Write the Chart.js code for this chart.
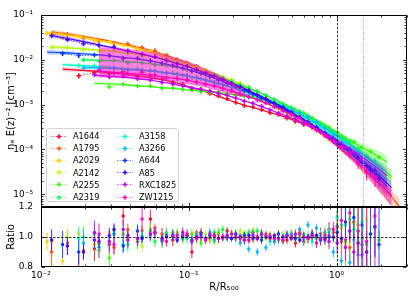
<!DOCTYPE html>
<html>
<head>
<meta charset="utf-8">
<script src="https://cdn.jsdelivr.net/npm/chart.js@4.4.1/dist/chart.umd.min.js"></script>
<style>
  html, body { margin: 0; padding: 0; background: #fff; }
  #wrap { position: relative; width: 415px; height: 297px; overflow: hidden; }
  #wrap canvas { position: absolute; left: 0; top: 0; }
  #legend {
    position: absolute; left: 46px; top: 128px; width: 133px; height: 74px;
    box-sizing: border-box; border: 1px solid #d4d4d4; border-radius: 3px;
    background: rgba(255, 255, 255, 0.8);
    font-family: 'DejaVu Sans', sans-serif; font-size: 8.2px; color: #000;
  }
  #legend .item { position: absolute; height: 12px; line-height: 12px; white-space: nowrap; }
  #legend svg { position: absolute; top: 1.5px; }
</style>
</head>
<body>
<div id="wrap">
  <canvas id="main" width="415" height="297"></canvas>
  <canvas id="ratio" width="415" height="297"></canvas>
  <div id="legend"></div>
</div>
<script>
// ─── DATA ───────────────────────────────────────────────────────
const clusters = ['A1644', 'A1795', 'A2029', 'A2142', 'A2255', 'A2319',
                  'A3158', 'A3266', 'A644', 'A85', 'RXC1825', 'ZW1215'];

// radial bins (R/R500); odd-indexed clusters sit on the second grid
const gridA = [0.011, 0.014, 0.018, 0.023, 0.029, 0.036, 0.045, 0.055, 0.066, 0.078, 0.091, 0.105,
               0.121, 0.139, 0.159, 0.182, 0.208, 0.238, 0.272, 0.311, 0.355, 0.405, 0.462, 0.527,
               0.6, 0.684, 0.78, 0.89, 1.01, 1.15, 1.31, 1.49, 1.7, 1.94, 2.2, 2.5];
const gridB = [0.0118, 0.0151, 0.0194, 0.0247, 0.0312, 0.0387, 0.0483, 0.059, 0.0707, 0.0835, 0.0975, 0.113,
               0.13, 0.149, 0.17, 0.195, 0.223, 0.255, 0.291, 0.333, 0.38, 0.434, 0.495, 0.564,
               0.642, 0.732, 0.835, 0.952, 1.08, 1.23, 1.4, 1.6, 1.82, 2.08, 2.36, 2.68];

// best-fit model n_e E(z)^-2 [cm^-3]
const modelA1644 = [null, 6.2e-3, 5.9e-3, 5.6e-3, 5.2e-3, 4.8e-3, 4.4e-3, 4.0e-3, 3.6e-3, 3.2e-3, 2.8e-3, 2.4e-3,
  2.1e-3, 1.8e-3, 1.53e-3, 1.3e-3, 1.12e-3, 9.7e-4, 8.6e-4, 7.6e-4, 6.7e-4, 5.9e-4, 5.1e-4, 4.4e-4,
  3.7e-4, 3.1e-4, 2.5e-4, 2.0e-4, 1.53e-4, 1.15e-4, 8.4e-5, 6.0e-5, 4.1e-5, 2.7e-5, 1.7e-5, null];
const modelA1795 = [4.2e-2, 3.8e-2, 3.35e-2, 2.9e-2, 2.5e-2, 2.15e-2, 1.8e-2, 1.51e-2, 1.25e-2, 1.03e-2, 8.5e-3, 7.0e-3,
  5.8e-3, 4.7e-3, 3.9e-3, 3.2e-3, 2.6e-3, 2.1e-3, 1.68e-3, 1.33e-3, 1.05e-3, 8.3e-4, 6.5e-4, 5.0e-4,
  3.8e-4, 2.9e-4, 2.1e-4, 1.55e-4, 1.12e-4, 7.9e-5, 5.4e-5, 3.6e-5, 2.3e-5, 1.45e-5, 8.8e-6, 5.2e-6];
const modelA2029 = [4.0e-2, 3.7e-2, 3.3e-2, 2.85e-2, 2.45e-2, 2.1e-2, 1.78e-2, 1.48e-2, 1.22e-2, 1.01e-2, 8.3e-3, 6.8e-3,
  5.6e-3, 4.6e-3, 3.8e-3, 3.1e-3, 2.5e-3, 2.0e-3, 1.6e-3, 1.28e-3, 1.02e-3, 8.1e-4, 6.4e-4, 5.0e-4,
  3.9e-4, 3.0e-4, 2.3e-4, 1.72e-4, 1.27e-4, 9.2e-5, 6.4e-5, 4.3e-5, 2.8e-5, 1.8e-5, 1.1e-5, null];
const modelA2142 = [1.95e-2, 1.86e-2, 1.76e-2, 1.65e-2, 1.54e-2, 1.42e-2, 1.29e-2, 1.16e-2, 1.03e-2, 9.1e-3, 8.0e-3, 6.9e-3,
  5.9e-3, 5.0e-3, 4.2e-3, 3.5e-3, 2.9e-3, 2.4e-3, 1.95e-3, 1.58e-3, 1.27e-3, 1.01e-3, 8.0e-4, 6.3e-4,
  4.9e-4, 3.8e-4, 2.9e-4, 2.2e-4, 1.65e-4, 1.22e-4, 9.0e-5, 6.5e-5, 4.6e-5, 3.2e-5, 2.2e-5, null];
const modelA2255 = [null, null, null, 3.0e-3, 2.9e-3, 2.8e-3, 2.65e-3, 2.5e-3, 2.4e-3, 2.3e-3, 2.2e-3, 2.1e-3,
  2.02e-3, 1.94e-3, 1.85e-3, 1.75e-3, 1.65e-3, 1.55e-3, 1.45e-3, 1.32e-3, 1.18e-3, 1.04e-3, 9.0e-4, 7.7e-4,
  6.4e-4, 5.1e-4, 4.0e-4, 3.1e-4, 2.35e-4, 1.82e-4, 1.42e-4, 1.12e-4, 8.8e-5, 6.8e-5, 5.2e-5, null];
const modelA2319 = [null, null, 1.0e-2, 9.8e-3, 9.5e-3, 9.1e-3, 8.6e-3, 8.0e-3, 7.4e-3, 6.8e-3, 6.1e-3, 5.5e-3,
  4.9e-3, 4.3e-3, 3.7e-3, 3.2e-3, 2.7e-3, 2.3e-3, 1.92e-3, 1.6e-3, 1.32e-3, 1.07e-3, 8.6e-4, 6.9e-4,
  5.5e-4, 4.3e-4, 3.3e-4, 2.5e-4, 1.85e-4, 1.37e-4, 1.0e-4, 7.2e-5, 5.1e-5, 3.6e-5, 2.5e-5, null];
const modelA3158 = [null, 7.8e-3, 7.5e-3, 7.2e-3, 6.9e-3, 6.5e-3, 6.1e-3, 5.7e-3, 5.3e-3, 4.9e-3, 4.5e-3, 4.1e-3,
  3.7e-3, 3.3e-3, 2.9e-3, 2.6e-3, 2.3e-3, 2.0e-3, 1.72e-3, 1.46e-3, 1.23e-3, 1.02e-3, 8.3e-4, 6.7e-4,
  5.3e-4, 4.1e-4, 3.1e-4, 2.3e-4, 1.7e-4, 1.24e-4, 9.0e-5, 6.4e-5, 4.5e-5, 3.1e-5, 2.1e-5, null];
const modelA3266 = [null, null, 6.8e-3, 6.6e-3, 6.4e-3, 6.1e-3, 5.8e-3, 5.5e-3, 5.1e-3, 4.8e-3, 4.4e-3, 4.0e-3,
  3.6e-3, 3.2e-3, 2.8e-3, 2.45e-3, 2.13e-3, 1.83e-3, 1.56e-3, 1.32e-3, 1.1e-3, 9.1e-4, 7.5e-4, 6.1e-4,
  4.9e-4, 3.9e-4, 3.0e-4, 2.3e-4, 1.72e-4, 1.27e-4, 9.3e-5, 6.7e-5, 4.8e-5, 3.4e-5, null, null];
const modelA644 = [1.48e-2, 1.45e-2, 1.38e-2, 1.31e-2, 1.23e-2, 1.14e-2, 1.04e-2, 9.4e-3, 8.4e-3, 7.4e-3, 6.5e-3, 5.7e-3,
  4.9e-3, 4.2e-3, 3.6e-3, 3.0e-3, 2.5e-3, 2.1e-3, 1.72e-3, 1.4e-3, 1.13e-3, 9.0e-4, 7.1e-4, 5.6e-4,
  4.3e-4, 3.3e-4, 2.5e-4, 1.85e-4, 1.35e-4, 9.8e-5, 7.0e-5, 4.9e-5, 3.4e-5, 2.3e-5, 1.5e-5, null];
const modelA85 = [3.5e-2, 3.0e-2, 2.55e-2, 2.15e-2, 1.83e-2, 1.57e-2, 1.34e-2, 1.14e-2, 9.7e-3, 8.3e-3, 7.1e-3, 6.0e-3,
  5.1e-3, 4.3e-3, 3.6e-3, 3.0e-3, 2.5e-3, 2.05e-3, 1.67e-3, 1.35e-3, 1.08e-3, 8.6e-4, 6.8e-4, 5.3e-4,
  4.1e-4, 3.1e-4, 2.35e-4, 1.75e-4, 1.3e-4, 9.4e-5, 6.7e-5, 4.6e-5, 3.1e-5, 2.1e-5, 1.4e-5, null];
const modelRXC1825 = [null, null, null, 4.5e-3, 4.3e-3, 4.1e-3, 3.8e-3, 3.5e-3, 3.2e-3, 2.9e-3, 2.6e-3, 2.4e-3,
  2.2e-3, 2.0e-3, 1.8e-3, 1.6e-3, 1.4e-3, 1.22e-3, 1.06e-3, 9.0e-4, 7.7e-4, 6.5e-4, 5.5e-4, 4.6e-4,
  3.8e-4, 3.1e-4, 2.5e-4, 2.0e-4, 1.55e-4, 1.2e-4, 9.1e-5, 6.8e-5, 5.0e-5, 3.6e-5, 2.6e-5, null];
const modelZW1215 = [null, null, null, 5.6e-3, 5.3e-3, 5.0e-3, 4.7e-3, 4.4e-3, 4.1e-3, 3.8e-3, 3.5e-3, 3.2e-3,
  2.9e-3, 2.6e-3, 2.3e-3, 2.0e-3, 1.75e-3, 1.5e-3, 1.28e-3, 1.08e-3, 9.0e-4, 7.4e-4, 6.0e-4, 4.8e-4,
  3.7e-4, 2.8e-4, 2.0e-4, 1.42e-4, 1.0e-4, 7.0e-5, 4.8e-5, 3.2e-5, 2.1e-5, 1.4e-5, 9.2e-6, null];

// data / model
const ratioA1644 = [null, null, 0.75, 0.92, 0.95, 1.14, 0.97, 1.12, 1.02, 0.98, 1.01, 0.90,
  1.03, 0.99, 1.02, 1.04, 1.00, 0.98, 1.03, 1.01, 0.99, 1.02, 0.98, 0.96,
  0.97, 1.00, 1.02, 1.05, 1.07, 0.98, 1.10, 0.95, null, null, null, null];
const ratioA1795 = [0.90, 0.96, 0.91, 0.91, 0.93, 1.05, 1.04, 1.06, 1.02, 0.99, 1.01, 1.03,
  0.98, 1.00, 0.99, 1.02, 1.01, 0.98, 0.99, 1.02, 1.00, 0.98, 1.01, 1.03,
  0.99, 0.96, 0.98, 1.03, 0.97, 0.93, 1.08, 0.90, null, null, null, null];
const ratioA2029 = [0.97, 0.84, 1.02, 0.95, 1.03, 1.02, 0.98, 1.05, 1.01, 1.03, 0.99, 1.02,
  1.00, 0.98, 1.01, 0.99, 1.02, 1.01, 0.98, 1.00, 1.02, 0.99, 1.01, 0.98,
  1.00, 1.03, 1.01, 0.97, 1.04, 0.95, 1.09, 0.92, null, null, null, null];
const ratioA2142 = [0.97, 1.00, 0.96, 0.95, 1.04, 0.99, 0.94, 1.02, 0.97, 1.03, 1.01, 0.98,
  1.02, 0.97, 1.00, 1.03, 1.04, 1.02, 1.00, 0.99, 1.01, 1.02, 1.03, 1.01,
  0.98, 0.99, 1.02, 1.00, 1.06, 1.10, 0.96, 1.12, null, null, null, null];
const ratioA2255 = [null, null, null, null, 0.86, 1.02, 0.98, 1.04, 0.97, 1.01, 0.99, 1.02,
  0.96, 1.00, 1.03, 1.01, 0.99, 1.02, 1.04, 1.03, 1.00, 0.98, 1.01, 0.99,
  1.02, 1.00, 0.98, 1.01, 1.03, 0.97, 1.05, 0.99, 1.02, 0.98, null, null];
const ratioA2319 = [null, null, 1.00, 0.96, 1.02, 0.95, 1.00, 0.97, 1.03, 1.02, 0.99, 1.01,
  0.98, 1.03, 1.05, 1.02, 1.00, 1.03, 1.04, 1.01, 0.99, 0.97, 1.00, 1.02,
  1.01, 0.99, 1.03, 1.00, 1.08, 1.12, 1.04, 0.95, 1.06, null, null, null];
const ratioA3158 = [null, null, 0.99, 1.02, 0.97, 0.95, 1.04, 1.01, 0.98, 1.02, 1.00, 0.97,
  1.01, 1.03, 0.99, 1.00, 1.02, 0.98, 1.01, 1.00, 0.97, 0.99, 1.02, 1.00,
  0.98, 0.97, 1.01, 1.04, 1.13, 1.08, 0.98, 1.10, null, null, null, null];
const ratioA3266 = [null, null, 0.96, 0.93, 1.02, 0.98, 1.00, 1.03, 1.01, 0.99, 1.02, 1.01,
  0.99, 0.98, 1.00, 0.99, 0.96, 0.92, 0.90, 0.93, 0.97, 1.00, 1.02, 1.05,
  1.08, 1.06, 0.98, 0.90, 0.84, 0.83, 0.88, null, null, null, null, null];
const ratioA644 = [null, 0.95, 0.90, 0.98, 1.01, 0.94, 1.04, 1.02, 0.99, 1.01, 1.00, 0.98,
  1.02, 1.01, 0.99, 1.00, 1.02, 1.01, 0.99, 0.98, 1.00, 1.02, 1.01, 0.99,
  1.00, 1.02, 0.98, 1.00, 1.03, 1.10, 1.13, 1.08, 1.02, 0.95, null, null];
const ratioA85 = [0.98, 0.94, 0.90, 0.97, 1.05, 1.01, 0.99, 1.03, 1.00, 0.98, 1.01, 1.00,
  0.99, 1.01, 1.00, 0.99, 1.00, 1.01, 0.99, 1.00, 1.01, 1.00, 0.99, 0.98,
  1.00, 1.01, 0.99, 1.00, 0.99, 1.04, 0.96, 0.90, 1.07, null, null, null];
const ratioRXC1825 = [null, null, null, 1.03, 0.97, 1.05, 0.99, 1.02, 0.98, 1.01, 1.03, 0.97,
  1.00, 1.02, 0.99, 1.01, 1.00, 0.98, 1.01, 1.02, 1.00, 0.99, 1.01, 1.02,
  1.00, 1.01, 0.99, 0.97, 0.96, 0.93, 0.90, 0.88, null, null, null, null];
const ratioZW1215 = [null, null, null, 1.02, 0.95, 0.98, 1.12, 1.03, 0.97, 1.01, 1.02, 0.99,
  0.98, 1.01, 1.00, 1.02, 0.99, 0.98, 1.00, 1.01, 0.99, 0.98, 1.00, 1.02,
  0.99, 0.96, 1.01, 1.05, 1.11, 1.16, 1.04, 0.97, 1.14, null, null, null];

// 1-sigma errors of the ratio, per cent
const errA1644 = [null, null, 15, 8, 7, 6, 5, 6, 4, 4, 4, 4,
  3, 3, 3, 2.5, 2.5, 2.5, 2.5, 2.5, 2.5, 2.5, 2.5, 3,
  3, 3, 4, 5, 10, 18, 28, 35, null, null, null, null];
const errA1795 = [10, 8, 6, 5, 5, 4, 3.5, 3, 3, 2.5, 2, 2,
  2, 2, 2, 2, 2, 2, 2, 2, 2, 2.5, 2.5, 2.5,
  3, 3, 3.5, 4, 9, 15, 25, 35, null, null, null, null];
const errA2029 = [6, 9, 5, 4, 3.5, 3, 2.5, 2.5, 2, 2, 2, 1.5,
  1.5, 1.5, 1.5, 1.5, 1.5, 1.5, 1.5, 1.5, 2, 2, 2, 2,
  2.5, 2.5, 3, 3.5, 8, 14, 22, 30, null, null, null, null];
const errA2142 = [6, 5, 5, 4.5, 4, 4, 3.5, 3, 3, 3, 2.5, 2.5,
  2.5, 2.5, 2.5, 2.5, 2.5, 2.5, 2.5, 2.5, 2.5, 2.5, 2.5, 2.5,
  3, 3, 3.5, 4, 9, 15, 22, 30, null, null, null, null];
const errA2255 = [null, null, null, null, 10, 7, 6, 5, 4.5, 4, 3.5, 3.5,
  3, 3, 3, 3, 2.5, 2.5, 2.5, 2.5, 2.5, 2.5, 2.5, 2.5,
  2.5, 2.5, 3, 3, 3, 3.5, 4, 4.5, 5, 6, null, null];
const errA2319 = [null, null, 7, 6, 5, 4.5, 4, 3.5, 3, 3, 3, 2.5,
  2.5, 2.5, 2.5, 2.5, 2.5, 2.5, 2.5, 2.5, 2.5, 2.5, 2.5, 2.5,
  3, 3, 3.5, 4, 6, 9, 12, 16, 20, null, null, null];
const errA3158 = [null, null, 8, 7, 6, 5, 4.5, 4, 3.5, 3.5, 3, 3,
  3, 3, 3, 3, 3, 3, 3, 3, 3, 3, 3, 3,
  3.5, 3.5, 4, 5, 10, 16, 24, 32, null, null, null, null];
const errA3266 = [null, null, 8, 7, 6, 5, 4, 3.5, 3, 3, 3, 3,
  2.5, 2.5, 2.5, 2.5, 2.5, 2.5, 2.5, 2.5, 2.5, 2.5, 2.5, 2.5,
  2.5, 2.5, 3, 3.5, 5, 7, 10, null, null, null, null, null];
const errA644 = [null, 9, 8, 6, 5, 4.5, 4, 3.5, 3, 3, 2.5, 2.5,
  2.5, 2.5, 2.5, 2.5, 2.5, 2.5, 2.5, 2.5, 2.5, 2.5, 2.5, 2.5,
  3, 3, 3.5, 4, 6, 10, 15, 22, 30, 35, null, null];
const errA85 = [7, 6, 5, 4.5, 4, 3, 2.5, 2, 2, 2, 1.5, 1.5,
  1.5, 1.5, 1.5, 1.5, 1.5, 1.5, 1.5, 1.5, 1.5, 1.5, 1.5, 2,
  2, 2, 2.5, 3, 4, 6, 9, 14, 20, null, null, null];
const errRXC1825 = [null, null, null, 8, 7, 6, 5, 4.5, 4, 3.5, 3.5, 3,
  3, 3, 3, 3, 3, 3, 3, 3, 3, 3, 3, 3,
  3, 3.5, 4, 5, 7, 9, 12, 15, null, null, null, null];
const errZW1215 = [null, null, null, 7, 6, 5, 8, 4, 3.5, 3, 3, 3,
  2.5, 2.5, 2.5, 2.5, 2.5, 2.5, 2.5, 2.5, 2.5, 2.5, 2.5, 3,
  3, 3.5, 4, 5, 12, 20, 28, 35, 40, null, null, null];

// model uncertainty (per cent half-width) along the grid
const bandRel = [12, 10, 8, 7, 6, 5, 4.5, 4, 3.5, 3, 3, 2.5,
  2.5, 2.5, 2.5, 2.5, 2.5, 2.5, 2.5, 2.5, 2.5, 3, 3, 3.5,
  4, 5, 6, 8, 10, 13, 17, 22, 28, 35, 42, 50];
// ZW1215 has a much broader envelope in the inner part
const bandHiZW1215 = [null, null, null, 1.9e-2, 1.85e-2, 1.75e-2, 1.62e-2, 1.46e-2, 1.28e-2, 1.1e-2, 9.3e-3, 7.8e-3,
  6.4e-3, 5.2e-3, 4.2e-3, 3.3e-3, 2.4e-3, null, null, null, null, null, null, null,
  null, null, null, null, null, null, null, null, null, null, null, null];
const bandLoZW1215 = [null, null, null, 4.1e-3, 4.05e-3, 3.95e-3, 3.8e-3, 3.6e-3, 3.4e-3, 3.15e-3, 2.9e-3, 2.65e-3,
  2.4e-3, 2.15e-3, 1.9e-3, 1.7e-3, 1.5e-3, null, null, null, null, null, null, null,
  null, null, null, null, null, null, null, null, null, null, null, null];

const refRadii = [1.0, 1.5];   // R500 and the outer marker line

// ─── STYLE ──────────────────────────────────────────────────────
const colors = ['#ff0029', '#ff5400', '#ffd100', '#afff00', '#32ff00', '#00ff4b',
                '#00ffc7', '#00b9ff', '#003bff', '#4300ff', '#c100ff', '#ff00bf'];

const models = [modelA1644, modelA1795, modelA2029, modelA2142, modelA2255, modelA2319,
                modelA3158, modelA3266, modelA644, modelA85, modelRXC1825, modelZW1215];
const ratios = [ratioA1644, ratioA1795, ratioA2029, ratioA2142, ratioA2255, ratioA2319,
                ratioA3158, ratioA3266, ratioA644, ratioA85, ratioRXC1825, ratioZW1215];
const errs = [errA1644, errA1795, errA2029, errA2142, errA2255, errA2319,
              errA3158, errA3266, errA644, errA85, errRXC1825, errZW1215];

Chart.defaults.font.family = "'DejaVu Sans', sans-serif";
Chart.defaults.font.size = 9;
Chart.defaults.color = '#000';

const X_MIN = 0.01, X_MAX = 3.0;
const Y_MIN = 5.2e-6, Y_MAX = 0.1;

function rgba(hex, a) {
  const n = parseInt(hex.slice(1), 16);
  return `rgba(${n >> 16},${(n >> 8) & 255},${n & 255},${a})`;
}

const SUP = { '-': '⁻', '0': '⁰', '1': '¹', '2': '²', '3': '³', '4': '⁴', '5': '⁵', '6': '⁶', '7': '⁷', '8': '⁸', '9': '⁹' };
function powLabel(v) {
  const p = Math.round(Math.log10(v));
  return '10' + String(p).split('').map(c => SUP[c]).join('');
}

// log tick positions for the decorations
function logTicks(min, max) {
  const major = [], minor = [];
  for (let e = Math.floor(Math.log10(min)); e <= Math.ceil(Math.log10(max)); e++) {
    for (let m = 1; m < 10; m++) {
      const v = m * Math.pow(10, e);
      if (v < min * 0.999 || v > max * 1.001) continue;
      (m === 1 ? major : minor).push(v);
    }
  }
  return { major, minor };
}

// ─── PLUGINS ────────────────────────────────────────────────────
const errorBars = {
  id: 'errorBars',
  afterDatasetDraw(chart, args) {
    const ds = chart.data.datasets[args.index];
    if (!ds.errLo) return;
    const { ctx, chartArea: a } = chart;
    const ys = chart.scales.y;
    ctx.save();
    ctx.beginPath();
    ctx.rect(a.left, a.top, a.right - a.left, a.bottom - a.top);
    ctx.clip();
    ctx.strokeStyle = ds.borderColor;
    ctx.lineWidth = 0.9;
    ctx.beginPath();
    args.meta.data.forEach((p, k) => {
      ctx.moveTo(p.x, ys.getPixelForValue(ds.errLo[k]));
      ctx.lineTo(p.x, ys.getPixelForValue(ds.errHi[k]));
    });
    ctx.stroke();
    ctx.restore();
  },
};

function frameAndTicks(yTicks, hLines) {
  return {
    id: 'frameAndTicks',
    afterDatasetsDraw(chart) {
      const { ctx, chartArea: a, scales } = chart;
      ctx.save();
      // reference lines
      refRadii.forEach((r, i) => {
        const x = Math.round(scales.x.getPixelForValue(r)) + 0.5;
        ctx.strokeStyle = i === 0 ? '#000' : '#b4b4b4';
        ctx.lineWidth = i === 0 ? 0.8 : 1.4;
        ctx.setLineDash(i === 0 ? [2.5, 1.5] : [1.2, 1.2]);
        ctx.beginPath(); ctx.moveTo(x, a.top); ctx.lineTo(x, a.bottom); ctx.stroke();
      });
      (hLines || []).forEach(v => {
        const y = Math.round(scales.y.getPixelForValue(v)) + 0.5;
        ctx.strokeStyle = '#000'; ctx.lineWidth = 0.8;
        ctx.setLineDash([2.5, 1.5]);
        ctx.beginPath(); ctx.moveTo(a.left, y); ctx.lineTo(a.right, y); ctx.stroke();
      });
      ctx.setLineDash([]);
      ctx.restore();
    },
    afterDraw(chart) {
      const { ctx, chartArea: a, scales } = chart;
      const L = a.left + 0.5, R = a.right - 0.5, T = a.top + 0.5, B = a.bottom - 0.5;
      ctx.save();
      ctx.strokeStyle = '#000';
      ctx.lineWidth = 1;
      ctx.strokeRect(L, T, R - L, B - T);
      ctx.lineWidth = 0.8;
      ctx.beginPath();
      const xt = logTicks(X_MIN, X_MAX);
      [[xt.major, 3.5], [xt.minor, 2]].forEach(([vals, len]) => vals.forEach(v => {
        const x = Math.round(scales.x.getPixelForValue(v)) + 0.5;
        ctx.moveTo(x, B); ctx.lineTo(x, B - len);
        ctx.moveTo(x, T); ctx.lineTo(x, T + len);
      }));
      [[yTicks.major, 3.5], [yTicks.minor, 2]].forEach(([vals, len]) => vals.forEach(v => {
        const y = Math.round(scales.y.getPixelForValue(v)) + 0.5;
        ctx.moveTo(L, y); ctx.lineTo(L + len, y);
        ctx.moveTo(R, y); ctx.lineTo(R - len, y);
      }));
      ctx.stroke();
      ctx.restore();
    },
  };
}

// ─── DATASETS ───────────────────────────────────────────────────
const mainSets = [];
const ratioSets = [];

clusters.forEach((name, i) => {
  const grid = i % 2 ? gridB : gridA;
  const m = models[i], q = ratios[i], e = errs[i];
  const line = [], lo = [], hi = [], pts = [], eLo = [], eHi = [];
  const rPts = [], rLo = [], rHi = [];
  const wide = name === 'ZW1215';
  grid.forEach((r, k) => {
    if (m[k] != null) {
      line.push({ x: r, y: m[k] });
      if (wide && bandHiZW1215[k] != null) {
        lo.push({ x: r, y: bandLoZW1215[k] });
        hi.push({ x: r, y: bandHiZW1215[k] });
      } else {
        lo.push({ x: r, y: m[k] * (1 - bandRel[k] / 100) });
        hi.push({ x: r, y: m[k] * (1 + bandRel[k] / 100) });
      }
    }
    if (q[k] != null) {
      const n = m[k] * q[k];
      pts.push({ x: r, y: n });
      eLo.push(n * (1 - e[k] / 100));
      eHi.push(n * (1 + e[k] / 100));
      rPts.push({ x: r, y: q[k] });
      rLo.push(q[k] - e[k] / 100);
      rHi.push(q[k] + e[k] / 100);
    }
  });
  const base = 1000 - i * 4;
  mainSets.push({ label: name + ' lo', data: lo, borderColor: 'transparent', borderWidth: 0, pointRadius: 0, fill: false, order: base });
  mainSets.push({ label: name + ' band', data: hi, borderColor: 'transparent', borderWidth: 0, pointRadius: 0,
    backgroundColor: rgba(colors[i], wide ? 0.5 : 0.25), fill: '-1', order: base - 1 });
  mainSets.push({ label: name + ' model', data: line, borderColor: colors[i], borderWidth: 1.1, pointRadius: 0,
    cubicInterpolationMode: 'monotone', fill: false, order: base - 2 });
  mainSets.push({ label: name, data: pts, borderColor: colors[i], backgroundColor: colors[i],
    borderWidth: 0.8, borderDash: [1.2, 1.6], showLine: true, fill: false,
    pointStyle: 'cross', pointRadius: 2.3, pointBorderWidth: 1.5, order: base - 3,
    errLo: eLo, errHi: eHi });
  ratioSets.push({ label: name, data: rPts, borderColor: colors[i], backgroundColor: colors[i],
    showLine: false, pointStyle: 'circle', pointRadius: 1.7, pointBorderWidth: 0, order: 100 - i,
    errLo: rLo, errHi: rHi });
});

// ─── CHARTS ─────────────────────────────────────────────────────
const yMainTicks = logTicks(Y_MIN, Y_MAX);

new Chart(document.getElementById('main'), {
  type: 'line',
  data: { datasets: mainSets },
  options: {
    responsive: false, animation: false, devicePixelRatio: 1, events: [],
    layout: { padding: { top: 15, right: 8, bottom: 90, left: 0 } },
    plugins: { legend: { display: false }, tooltip: { enabled: false } },
    scales: {
      x: { type: 'logarithmic', min: X_MIN, max: X_MAX, display: false },
      y: {
        type: 'logarithmic', min: Y_MIN, max: Y_MAX,
        grid: { display: false, drawTicks: false }, border: { display: false },
        afterBuildTicks: s => { s.ticks = yMainTicks.major.map(v => ({ value: v })); },
        afterFit: s => { s.width = 41; },
        ticks: { padding: 8, callback: v => powLabel(v), font: { size: 9 } },
        title: { display: true, text: 'nₑ E(z)⁻² [cm⁻³]', font: { size: 10 }, padding: { top: 5, bottom: 0 } },
      },
    },
  },
  plugins: [errorBars, frameAndTicks(yMainTicks)],
});

new Chart(document.getElementById('ratio'), {
  type: 'line',
  data: { datasets: ratioSets },
  options: {
    responsive: false, animation: false, devicePixelRatio: 1, events: [],
    layout: { padding: { top: 207, right: 8, bottom: 0, left: 0 } },
    plugins: { legend: { display: false }, tooltip: { enabled: false } },
    scales: {
      x: {
        type: 'logarithmic', min: X_MIN, max: X_MAX,
        grid: { display: false, drawTicks: false }, border: { display: false },
        afterBuildTicks: s => { s.ticks = logTicks(X_MIN, X_MAX).major.map(v => ({ value: v })); },
        afterFit: s => { s.height = 30; },
        ticks: { padding: 3, maxRotation: 0, autoSkip: false, callback: v => powLabel(v), font: { size: 9 } },
        title: { display: true, text: 'R/R₅₀₀', font: { size: 10 }, padding: { top: 0, bottom: 4 } },
      },
      y: {
        type: 'linear', min: 0.8, max: 1.2,
        grid: { display: false, drawTicks: false }, border: { display: false },
        afterBuildTicks: s => { s.ticks = [0.8, 1.0, 1.2].map(v => ({ value: v })); },
        afterFit: s => { s.width = 41; },
        ticks: { padding: 8, callback: v => Number(v).toFixed(1), font: { size: 9 } },
        title: { display: true, text: 'Ratio', font: { size: 10 }, padding: { top: 5, bottom: 0 } },
      },
    },
  },
  plugins: [errorBars, frameAndTicks({ major: [0.8, 1.0, 1.2], minor: [] }, [1.0])],
});

// ─── LEGEND (two columns, column-major) ─────────────────────────
const legend = document.getElementById('legend');
clusters.forEach((name, i) => {
  const col = Math.floor(i / 6), row = i % 6;
  const c = colors[i];
  const item = document.createElement('div');
  item.className = 'item';
  item.style.left = (col ? 70 : 4) + 'px';
  item.style.top = (1 + row * 12.2) + 'px';
  item.innerHTML =
    `<svg width="16" height="9" viewBox="0 0 16 9">` +
    `<line x1="0" y1="4.5" x2="16" y2="4.5" stroke="${c}" stroke-width="0.8" stroke-dasharray="1.2 1.4" opacity="0.8"/>` +
    `<path d="M8 2.2V6.8M5.7 4.5H10.3" stroke="${c}" stroke-width="1.5"/></svg>` +
    `<span style="position:absolute;left:22px;top:0">${name}</span>`;
  legend.appendChild(item);
});
</script>
</body>
</html>
